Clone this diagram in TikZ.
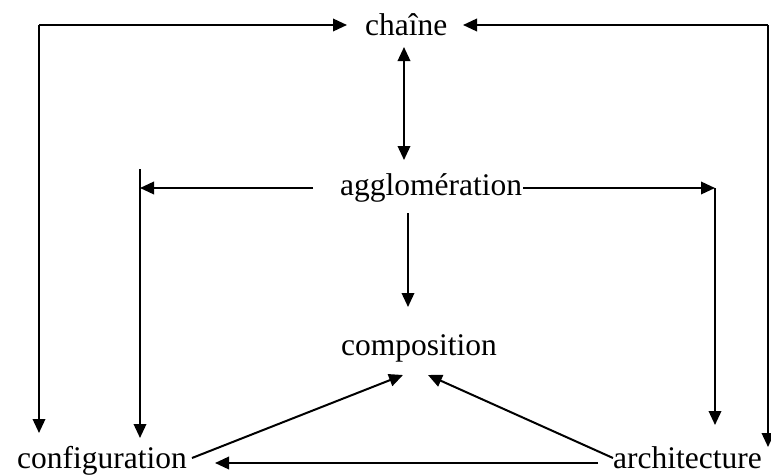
\documentclass[tikz,border=0pt]{standalone}
\usepackage{fontspec}
\setmainfont{Liberation Serif}
\usetikzlibrary{arrows.meta}
\begin{document}
\begin{tikzpicture}[x=1pt,y=-1pt,
  lbl/.style={inner sep=0pt,anchor=base west,font=\fontsize{31.5}{36}\selectfont},
  conn/.style={line width=2pt,-{Triangle[length=14pt,width=12.5pt]}},
  dconn/.style={line width=2pt,{Triangle[length=14pt,width=12.5pt]}-{Triangle[length=14pt,width=12.5pt]}}]
\useasboundingbox (0,0) rectangle (771,474);
\node[lbl] (ch) at (365,35) {chaîne};
\node[lbl] (ag) at (340,195) {agglomération};
\node[lbl] (co) at (341,355) {composition};
\node[lbl] (cf) at (17,468) {configuration};
\node[lbl] (ar) at (613,468) {architecture};
% corner / end coordinates
\coordinate (tl) at (39,25);
\coordinate (tlend) at (39,433);
\coordinate (tchl) at (347,25);
\coordinate (tr) at (768,25);
\coordinate (trend) at (768,447);
\coordinate (tchr) at (463,25);
\coordinate (cha) at (404,47);
\coordinate (agt) at (404,160);
\coordinate (agls) at (313,188);
\coordinate (aglt) at (140,188);
\coordinate (vlt) at (140,169);
\coordinate (vlb) at (140,438);
\coordinate (agrs) at (523,188);
\coordinate (agrt) at (715,188);
\coordinate (vrb) at (715,425);
\coordinate (agb) at (408,213);
\coordinate (cot) at (408,307);
\coordinate (arbl) at (598,463);
\coordinate (cfbr) at (215,463);
\coordinate (cfs) at (192,458);
\coordinate (cot1) at (403,375);
\coordinate (ars) at (613,458);
\coordinate (cot2) at (428,375);
% connectors
\draw[conn] (tl) -- (tchl);
\draw[conn] (tl) -- (tlend);
\draw[conn] (tr) -- (tchr);
\draw[conn] (tr) -- (trend);
\draw[dconn] (cha) -- (agt);
\draw[conn] (agls) -- (aglt);
\draw[conn] (vlt) -- (vlb);
\draw[conn] (agrs) -- (agrt);
\draw[conn] (agrt) -- (vrb);
\draw[conn] (agb) -- (cot);
\draw[conn] (arbl) -- (cfbr);
\draw[conn] (cfs) -- (cot1);
\draw[conn] (ars) -- (cot2);
\end{tikzpicture}
\end{document}
